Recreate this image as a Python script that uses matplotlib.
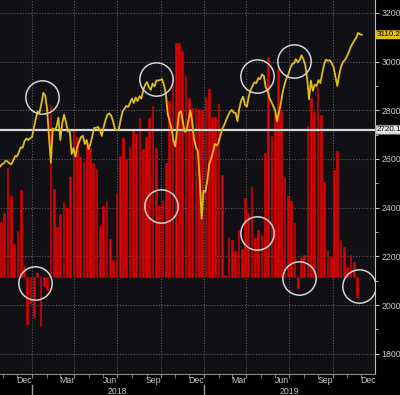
import numpy as np
import pandas as pd
import matplotlib
matplotlib.use("Agg")
import matplotlib.pyplot as plt
import matplotlib.dates as mdates
from matplotlib.ticker import MultipleLocator


# S&P 500 level, every 4 days from 2017-10-25
price = [
    2569, 2578, 2583, 2593, 2590, 2582, 2578, 2593, 2612, 2610,
    2628, 2648, 2646, 2673, 2684, 2678, 2685, 2690, 2730, 2766,
    2795, 2792, 2828, 2872, 2860, 2805, 2690, 2585, 2726, 2718,
    2733, 2770, 2678, 2745, 2782, 2752, 2712, 2717, 2620, 2645,
    2610, 2650, 2670, 2690, 2695, 2662, 2678, 2640, 2662, 2695,
    2728, 2728, 2732, 2720, 2695, 2731, 2760, 2782, 2787, 2778,
    2755, 2722, 2719, 2720, 2760, 2795, 2806, 2818, 2814, 2830,
    2848, 2830, 2852, 2838, 2858, 2848, 2882, 2905, 2916, 2895,
    2884, 2910, 2898, 2923, 2922, 2925, 2928, 2905, 2868, 2785,
    2755, 2726, 2678, 2652, 2722, 2788, 2797, 2754, 2712, 2715,
    2760, 2800, 2750, 2680, 2648, 2632, 2515, 2355, 2470, 2465,
    2510, 2578, 2600, 2628, 2662, 2655, 2668, 2698, 2724, 2740,
    2760, 2778, 2793, 2802, 2790, 2790, 2755, 2808, 2840, 2856,
    2822, 2815, 2856, 2884, 2900, 2915, 2911, 2932, 2928, 2947,
    2942, 2895, 2881, 2850, 2835, 2818, 2800, 2755, 2790, 2826,
    2874, 2907, 2932, 2948, 2972, 2990, 2993, 3010, 2997, 3006,
    3026, 3010, 2985, 2930, 2845, 2922, 2880, 2905, 2900, 2924,
    2912, 2950, 2990, 3008, 3003, 3006, 2994, 2978, 2940, 2900,
    2945, 2980, 2998, 3006, 3020, 3036, 3058, 3073, 3086, 3097,
    3118, 3112, 3110.2,
]
price_dates = pd.date_range("2017-10-25", periods=len(price), freq="4D")

# weekly indicator bars (drawn on the price scale, from a 2116 baseline)
indicator = [
    2343, 2380, 2563, 2450, 2251, 2305, 2473, 2160, 1922, 2008,
    1953, 2130, 1913, 2079, 2062, 2822, 2476, 2322, 2373, 2425,
    2400, 2528, 2720, 2692, 2610, 2589, 2665, 2644, 2585, 2558,
    2325, 2405, 2428, 2271, 2186, 2455, 2613, 2685, 2599, 2651,
    2720, 2702, 2767, 2640, 2692, 2767, 2818, 2644, 2407, 2432,
    2585, 2840, 2932, 3076, 3076, 3045, 2940, 2850, 2809, 2809,
    2805, 2802, 2856, 2887, 2774, 2772, 2826, 2535, 2122, 2279,
    2268, 2224, 2309, 2232, 2439, 2377, 2487, 2275, 2309, 2288,
    2626, 3018, 2694, 2788, 2969, 2802, 2528, 2448, 2428, 2336,
    2069, 2197, 2206, 2736, 2850, 2795, 2897, 2781, 2507, 2227,
    2197, 2555, 2633, 2268, 2240, 2158, 2206, 2179, 2035,
]
bar_dates = pd.date_range("2017-10-27", periods=len(indicator), freq="7D")
baseline = 2116

last_price = 3110.2
ref_level = 2720.1

# highlighted spots
circle_dates = pd.to_datetime(["2018-01-23", "2018-09-22", "2018-01-07", "2018-10-01",
                               "2019-04-24", "2019-04-24", "2019-07-11", "2019-07-22",
                               "2019-11-27"])
circle_vals = [2856, 2928, 2090, 2407, 2298, 2939, 3003, 2113, 2079]

month_labels = ["Dec", "Mar", "Jun", "Sep", "Dec", "Mar", "Jun", "Sep", "Dec"]
month_label_dates = pd.to_datetime(["2017-12-15", "2018-03-15", "2018-06-15", "2018-09-15",
                                    "2018-12-15", "2019-03-15", "2019-06-15", "2019-09-15",
                                    "2019-12-15"])
year_labels = ["2018", "2019"]
year_label_dates = pd.to_datetime(["2018-07-01", "2019-07-01"])
year_starts = pd.to_datetime(["2018-01-01", "2019-01-01"])

plt.rcParams['font.family'] = ['Liberation Sans', 'DejaVu Sans']

fig = plt.figure(figsize=(4, 3.95), dpi=100, facecolor='black')
ax = fig.add_axes([0, 21 / 395, 375 / 400, 374 / 395])
ax.set_facecolor('#111115')

# bars, reference line, price, circles
heights = np.array(indicator) - baseline
ax.bar(bar_dates, heights, bottom=baseline, width=3.6, color='#e00000',
       edgecolor='#e00000', lw=0.4, zorder=2)
ax.axhline(ref_level, color='#d9d9d9', lw=1.6, zorder=3)
ax.plot(price_dates, price, color='#e0bd18', lw=1.3, zorder=4)
ax.plot(circle_dates, circle_vals, 'o', ms=24, mfc='none', mec='#d4d4d4', mew=1.1, zorder=5)

ax.set_xlim(pd.Timestamp("2017-10-25"), pd.Timestamp("2019-12-30"))
ax.set_ylim(1717, 3253)

# grid
ax.xaxis.set_major_locator(mdates.MonthLocator(bymonth=[1, 4, 7, 10]))
ax.xaxis.set_minor_locator(mdates.MonthLocator())
ax.xaxis.set_major_formatter(plt.NullFormatter())
ax.yaxis.set_major_locator(MultipleLocator(200))
ax.yaxis.set_minor_locator(MultipleLocator(100))
ax.grid(True, which='major', color='#5c5c5c', lw=0.8, ls=(0, (1, 1.5)))

ax.yaxis.tick_right()
ax.tick_params(axis='y', which='both', colors='#c8c8c8', labelsize=6.3, pad=1.5)
ax.tick_params(axis='y', which='major', length=3)
ax.tick_params(axis='y', which='minor', length=2)
ax.tick_params(axis='x', which='both', colors='#8a8a8a', length=3)

for side in ['left', 'top']:
    ax.spines[side].set_visible(False)
ax.spines['right'].set_color('#bdbdbd')
ax.spines['bottom'].set_color('#8a8a8a')

# month / year labels under the axis
xt = ax.get_xaxis_transform()
for d, lab in zip(month_label_dates, month_labels):
    ax.text(d, -0.018, lab, transform=xt, ha='center', va='center',
            fontsize=6.3, color='#c8c8c8', clip_on=False)
for d, lab in zip(year_label_dates, year_labels):
    ax.text(d, -0.047, lab, transform=xt, ha='center', va='center',
            fontsize=6.3, color='#c8c8c8', clip_on=False)
for d in year_starts:
    ax.plot([d, d], [-0.029, -0.056], transform=xt, color='#9a9a9a', lw=1, clip_on=False)

# last value tags on the right
yt = ax.get_yaxis_transform()
ax.text(1.005, last_price, f"{last_price:.1f}", transform=yt, ha='left', va='center',
        fontsize=5.8, color='black', clip_on=False,
        bbox=dict(boxstyle='round,pad=0.12', fc='#e0bd18', ec='none'))
ax.text(1.005, ref_level, f"{ref_level:.1f}", transform=yt, ha='left', va='center',
        fontsize=5.8, color='black', clip_on=False,
        bbox=dict(boxstyle='round,pad=0.12', fc='#e6e6e6', ec='#888888', lw=0.6))

fig.savefig("out.png", dpi=100, facecolor='black')
